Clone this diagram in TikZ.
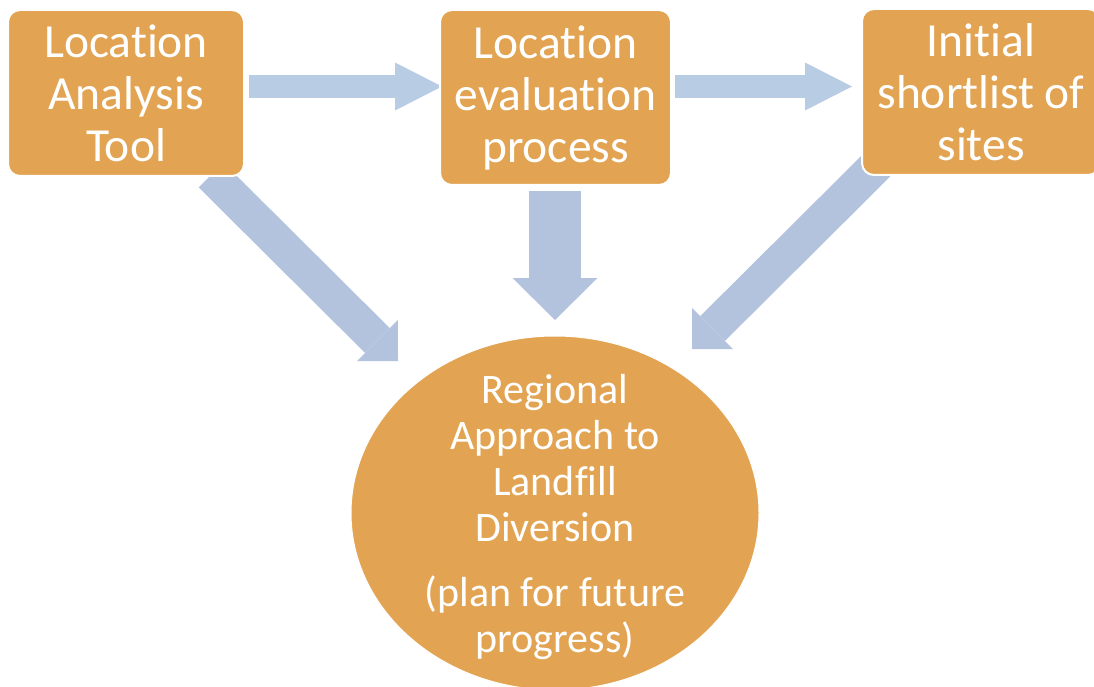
\documentclass[tikz,border=0pt]{standalone}
\usepackage{fontspec}
\setmainfont{Carlito}[Ligatures=NoCommon]
\usetikzlibrary{arrows.meta,shapes.geometric,backgrounds}
\definecolor{boxorange}{HTML}{E2A452}
\definecolor{flowblue}{HTML}{B3C3DE}
\definecolor{sideblue}{HTML}{B8CCE4}

\begin{document}
\begin{tikzpicture}[x=1pt,y=-1pt,
    main node/.style={rectangle,rounded corners=12pt,fill=boxorange,draw=white,line width=2pt,text=white,minimum width=236pt,minimum height=166pt,inner sep=0pt,align=center,font=\fontsize{47.5}{52}\selectfont},
    goal node/.style={ellipse,fill=boxorange,draw=white,line width=1pt,minimum width=408pt,minimum height=354pt,inner sep=0pt},
    goal text/.style={text=white,align=center,font=\fontsize{42}{46}\selectfont},
    side arrow/.style={draw=sideblue,line width=23pt,-{Triangle[width=48pt,length=47pt,line width=0pt]}},
    down arrow/.style={draw=flowblue,line width=52pt,-{Triangle[width=85pt,length=42pt,line width=0pt]}},
    slant arrow/.style={draw=flowblue,line width=35pt,-{Triangle[width=58pt,length=29pt,line width=0pt]}}]
                \useasboundingbox (0,0) rectangle (1094,687);

                \node[main node] (lat) at (126,93) {Location\\Analysis\\Tool};
                \node[main node,minimum width=231pt,minimum height=175pt] (lep) at (555.5,97.5) {Location\\evaluation\\process};
                \node[main node,minimum width=238pt] (isl) at (981,92) {Initial\\shortlist of\\sites};
                \node[goal node] (rald) at (555,513) {};
                \node[goal text,yshift=-4pt] (rald text) at (rald.center) {Regional\\Approach to\\Landfill\\Diversion\\[19pt](plan for future\\progress)};

                % arrow ends
                \coordinate (lat out) at (249,86.5);
                \coordinate (lep in) at (442,86.5);
                \coordinate (lep out) at (675,86.5);
                \coordinate (isl in) at (852,86.5);
                \coordinate (lep down) at (555,191);
                \coordinate (rald top) at (555,320);
                \coordinate (lat down) at (211,175);
                \coordinate (rald left) at (398,361);
                \coordinate (isl down) at (881,161);
                \coordinate (rald right) at (692,349);

                \begin{scope}[on background layer]
                    \path
                        (lat out) edge[side arrow] (lep in)
                        (lep out) edge[side arrow] (isl in)
                        (lep down) edge[down arrow] (rald top)
                        (lat down) edge[slant arrow] (rald left)
                        (isl down) edge[slant arrow] (rald right)
                    ;
                \end{scope}

            \end{tikzpicture}
\end{document}
